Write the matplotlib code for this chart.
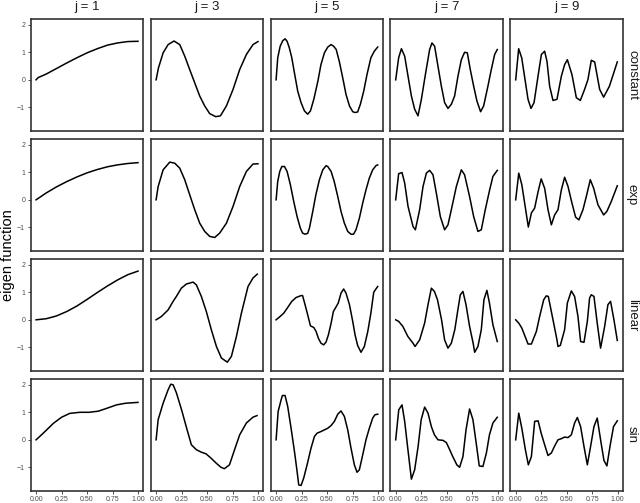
import matplotlib
matplotlib.use("Agg")
import matplotlib.pyplot as plt

plt.rcParams['font.family'] = ['Liberation Sans', 'DejaVu Sans']

# ---------------- data ----------------
rows = ["constant", "exp", "linear", "sin"]
cols = [1, 3, 5, 7, 9]
x_ticks = [0.0, 0.25, 0.5, 0.75, 1.0]
x_tick_labels = ["0.00", "0.25", "0.50", "0.75", "1.00"]
y_ticks = [-1, 0, 1, 2]
y_tick_labels = ["\u22121", "0", "1", "2"]

constant_j1_x = [0, 0.02, 0.1, 0.2, 0.3, 0.4, 0.5, 0.6, 0.7, 0.8, 0.9, 1.0]
constant_j1_y = [0, 0.08, 0.21, 0.41, 0.61, 0.80, 0.98, 1.13, 1.26, 1.34, 1.39, 1.40]
constant_j3_x = [0, 0.023, 0.069, 0.118, 0.176, 0.232, 0.281, 0.33, 0.379, 0.428, 0.477, 0.526, 0.585,
                 0.631, 0.69, 0.755, 0.82, 0.886, 0.951, 1.0]
constant_j3_y = [0, 0.43, 0.98, 1.28, 1.41, 1.28, 0.86, 0.37, -0.11, -0.59, -0.95, -1.23, -1.34,
                 -1.31, -0.95, -0.35, 0.37, 0.92, 1.28, 1.39]
constant_j5_x = [0, 0.016, 0.04, 0.065, 0.088, 0.108, 0.13, 0.154, 0.18, 0.212, 0.245, 0.278, 0.31,
                 0.337, 0.37, 0.41, 0.44, 0.474, 0.507, 0.54, 0.565, 0.59, 0.62, 0.654, 0.686,
                 0.72, 0.752, 0.775, 0.8, 0.827, 0.86, 0.892, 0.93, 0.964, 0.997]
constant_j5_y = [0, 0.80, 1.22, 1.42, 1.49, 1.40, 1.16, 0.80, 0.25, -0.41, -0.83, -1.13, -1.25,
                 -1.13, -0.71, -0.05, 0.55, 0.98, 1.19, 1.28, 1.22, 1.10, 0.67, 0.07, -0.53,
                 -0.95, -1.16, -1.19, -1.17, -0.89, -0.41, 0.19, 0.80, 1.04, 1.19]
constant_j7_x = [0, 0.029, 0.056, 0.088, 0.121, 0.154, 0.186, 0.219, 0.252, 0.294, 0.333, 0.356, 0.382,
                 0.415, 0.448, 0.480, 0.513, 0.546, 0.578, 0.611, 0.644, 0.676, 0.703, 0.732, 0.765,
                 0.797, 0.833, 0.863, 0.905, 0.938, 0.971, 0.997]
constant_j7_y = [0, 0.80, 1.13, 0.86, 0.13, -0.59, -1.07, -1.31, -0.71, 0.25, 1.10, 1.34, 1.22,
                 0.49, -0.23, -0.83, -1.04, -0.89, -0.59, 0.13, 0.73, 1.0, 0.98, 0.37, -0.23,
                 -0.77, -1.16, -0.95, -0.23, 0.37, 0.92, 1.10]
constant_j9_x = [0, 0.029, 0.059, 0.121, 0.150, 0.180, 0.219, 0.252, 0.284, 0.307, 0.333, 0.366, 0.405,
                 0.448, 0.480, 0.507, 0.552, 0.595, 0.634, 0.676, 0.709, 0.742, 0.775, 0.824, 0.863,
                 0.920, 0.997]
constant_j9_y = [0, 1.13, 0.80, -0.71, -1.04, -0.83, 0.13, 0.92, 1.04, 0.67, -0.23, -0.75, -0.71,
                 0.13, 0.55, 0.73, 0.19, -0.65, -0.75, -0.35, 0.01, 0.71, 0.65, -0.35, -0.63,
                 -0.23, 0.65]

exp_j1_x = [0, 0.1, 0.2, 0.3, 0.4, 0.5, 0.6, 0.7, 0.8, 0.9, 1.0]
exp_j1_y = [0, 0.25, 0.47, 0.66, 0.83, 0.98, 1.10, 1.20, 1.27, 1.32, 1.35]
exp_j3_x = [0, 0.02, 0.069, 0.134, 0.183, 0.232, 0.281, 0.33, 0.379, 0.428, 0.477, 0.526, 0.575,
            0.624, 0.69, 0.755, 0.82, 0.886, 0.951, 1.0]
exp_j3_y = [0, 0.48, 1.09, 1.37, 1.33, 1.15, 0.73, 0.18, -0.36, -0.85, -1.15, -1.33, -1.37,
            -1.21, -0.85, -0.24, 0.48, 1.03, 1.30, 1.31]
exp_j5_x = [0, 0.016, 0.036, 0.056, 0.082, 0.108, 0.14, 0.173, 0.206, 0.238, 0.26, 0.284, 0.31,
            0.327, 0.36, 0.39, 0.425, 0.458, 0.49, 0.507, 0.54, 0.57, 0.605, 0.637, 0.67, 0.703,
            0.735, 0.76, 0.784, 0.817, 0.85, 0.882, 0.915, 0.948, 0.98, 0.997]
exp_j5_y = [0, 0.67, 1.03, 1.21, 1.21, 1.03, 0.55, -0.06, -0.61, -1.03, -1.21, -1.25, -1.22,
            -1.03, -0.42, 0.18, 0.73, 1.09, 1.24, 1.21, 1.03, 0.67, 0.12, -0.42, -0.85, -1.15,
            -1.25, -1.25, -1.09, -0.67, -0.12, 0.36, 0.79, 1.09, 1.24, 1.27]
exp_j7_x = [0, 0.029, 0.062, 0.088, 0.121, 0.17, 0.193, 0.235, 0.268, 0.301, 0.333, 0.366, 0.399,
            0.438, 0.48, 0.513, 0.546, 0.595, 0.644, 0.676, 0.725, 0.765, 0.807, 0.84, 0.879,
            0.922, 0.954, 0.997]
exp_j7_y = [0, 0.95, 0.99, 0.61, -0.24, -0.97, -1.09, -0.36, 0.48, 0.97, 1.07, 0.91, 0.24,
            -0.61, -1.09, -0.91, -0.36, 0.48, 1.09, 0.91, 0.12, -0.61, -1.15, -1.09, -0.36,
            0.36, 0.85, 1.07]
exp_j9_x = [0, 0.03, 0.06, 0.124, 0.154, 0.186, 0.22, 0.25, 0.284, 0.317, 0.35, 0.382, 0.415, 0.448,
            0.48, 0.513, 0.552, 0.588, 0.62, 0.66, 0.693, 0.732, 0.765, 0.807, 0.863, 0.895,
            0.938, 0.997]
exp_j9_y = [0, 0.97, 0.55, -0.99, -0.48, -0.30, 0.30, 0.76, 0.42, -0.36, -0.91, -0.55, -0.36, 0.36,
            0.82, 0.49, -0.12, -0.63, -0.73, -0.36, 0.12, 0.73, 0.42, -0.18, -0.55, -0.42,
            -0.06, 0.51]

linear_j1_x = [0, 0.1, 0.2, 0.3, 0.4, 0.5, 0.6, 0.7, 0.8, 0.9, 1.0]
linear_j1_y = [0, 0.04, 0.14, 0.30, 0.50, 0.74, 0.99, 1.23, 1.45, 1.64, 1.77]
linear_j3_x = [0, 0.052, 0.118, 0.167, 0.199, 0.248, 0.297, 0.363, 0.395, 0.444, 0.493, 0.542, 0.592,
               0.641, 0.699, 0.739, 0.788, 0.837, 0.902, 0.951, 0.993]
linear_j3_y = [0, 0.12, 0.36, 0.67, 0.85, 1.15, 1.30, 1.37, 1.27, 0.85, 0.30, -0.36, -0.97,
               -1.39, -1.54, -1.33, -0.61, 0.24, 1.21, 1.52, 1.66]
linear_j5_x = [0, 0.033, 0.075, 0.114, 0.154, 0.196, 0.245, 0.26, 0.284, 0.31, 0.337, 0.37, 0.392,
               0.415, 0.44, 0.467, 0.49, 0.513, 0.54, 0.562, 0.59, 0.61, 0.637, 0.663, 0.686,
               0.72, 0.752, 0.775, 0.8, 0.833, 0.866, 0.9, 0.93, 0.958, 0.974, 0.997]
linear_j5_y = [0, 0.10, 0.24, 0.45, 0.67, 0.81, 0.88, 0.88, 0.55, 0.18, -0.22, -0.28, -0.42,
               -0.67, -0.85, -0.91, -0.81, -0.55, -0.12, 0.30, 0.48, 0.61, 0.97, 1.12, 0.97,
               0.55, -0.06, -0.55, -0.93, -1.18, -0.97, -0.42, 0.24, 1.0, 1.09, 1.21]
linear_j7_x = [0, 0.03, 0.07, 0.12, 0.17, 0.19, 0.235, 0.284, 0.317, 0.35, 0.38, 0.41, 0.45, 0.48,
               0.513, 0.546, 0.58, 0.61, 0.634, 0.66, 0.69, 0.725, 0.76, 0.775, 0.807, 0.84, 0.866,
               0.895, 0.92, 0.954, 0.997]
linear_j7_y = [0, -0.06, -0.24, -0.61, -0.85, -0.97, -0.73, -0.12, 0.55, 1.15, 1.03, 0.73, 0.0, -0.73,
               -1.03, -0.85, -0.36, 0.36, 0.91, 1.03, 0.55, -0.24, -0.85, -1.18, -0.97, -0.36, 0.73,
               1.07, 0.61, -0.18, -0.79]
linear_j9_x = [0, 0.03, 0.06, 0.121, 0.154, 0.203, 0.235, 0.275, 0.30, 0.32, 0.366, 0.405, 0.415,
               0.438, 0.48, 0.507, 0.546, 0.578, 0.611, 0.637, 0.67, 0.703, 0.725, 0.742, 0.768,
               0.8, 0.833, 0.873, 0.905, 0.931, 0.964, 0.997]
linear_j9_y = [0, -0.12, -0.30, -0.88, -0.88, -0.42, 0.12, 0.73, 0.87, 0.85, 0.0, -0.73, -0.97,
               -0.93, -0.36, 0.61, 1.05, 0.85, 0.12, -0.79, -0.82, -0.06, 0.79, 0.91, 0.85,
               -0.12, -1.03, -0.24, 0.55, 0.67, 0.0, -0.75]

sin_j1_x = [0, 0.07, 0.17, 0.25, 0.33, 0.43, 0.52, 0.61, 0.69, 0.79, 0.88, 1.0]
sin_j1_y = [0, 0.24, 0.60, 0.82, 0.96, 1.0, 1.0, 1.04, 1.14, 1.27, 1.33, 1.36]
sin_j3_x = [0, 0.02, 0.069, 0.118, 0.144, 0.167, 0.2, 0.25, 0.3, 0.346, 0.395, 0.444, 0.49, 0.54,
            0.59, 0.637, 0.67, 0.72, 0.77, 0.82, 0.886, 0.95, 0.99]
sin_j3_y = [0, 0.73, 1.33, 1.82, 2.02, 2.0, 1.7, 1.09, 0.42, -0.18, -0.36, -0.45, -0.51, -0.67,
            -0.85, -1.0, -1.05, -0.91, -0.36, 0.18, 0.61, 0.82, 0.88]
sin_j5_x = [0, 0.02, 0.049, 0.062, 0.088, 0.114, 0.147, 0.18, 0.206, 0.222, 0.245, 0.271, 0.304,
            0.343, 0.376, 0.402, 0.44, 0.474, 0.507, 0.54, 0.572, 0.605, 0.637, 0.67, 0.703,
            0.735, 0.768, 0.794, 0.817, 0.85, 0.882, 0.915, 0.948, 0.97, 0.997]
sin_j5_y = [0, 1.03, 1.45, 1.61, 1.61, 1.21, 0.42, -0.42, -1.15, -1.64, -1.66, -1.39, -0.91,
            -0.30, 0.12, 0.24, 0.30, 0.36, 0.42, 0.52, 0.67, 0.93, 1.05, 0.85, 0.36,
            -0.30, -0.91, -1.18, -1.09, -0.55, 0.0, 0.42, 0.79, 0.91, 0.93]
sin_j7_x = [0, 0.03, 0.062, 0.088, 0.12, 0.154, 0.186, 0.22, 0.25, 0.284, 0.317, 0.35, 0.38, 0.415,
            0.464, 0.497, 0.53, 0.56, 0.6, 0.627, 0.66, 0.69, 0.725, 0.758, 0.79, 0.82, 0.856,
            0.89, 0.92, 0.954, 0.997]
sin_j7_y = [0, 1.09, 1.27, 0.67, -0.36, -1.43, -1.09, -0.24, 0.73, 1.19, 0.97, 0.48, 0.18, 0.0,
            -0.02, -0.1, -0.36, -0.61, -0.91, -1.0, -0.61, 0.36, 1.12, 0.73, -0.12, -0.95, -0.97,
            -0.48, 0.18, 0.61, 0.82]
sin_j9_x = [0, 0.03, 0.06, 0.095, 0.124, 0.154, 0.186, 0.22, 0.25, 0.284, 0.317, 0.35, 0.38, 0.415,
            0.448, 0.48, 0.513, 0.546, 0.578, 0.605, 0.637, 0.67, 0.703, 0.735, 0.768, 0.8, 0.833,
            0.866, 0.895, 0.928, 0.96, 0.997]
sin_j9_y = [0, 0.97, 0.42, -0.36, -0.91, -0.61, 0.67, 0.69, 0.24, -0.18, -0.57, -0.48, -0.24, 0.0,
            0.04, 0.1, 0.08, 0.18, 0.61, 0.81, 0.48, -0.24, -0.91, -0.24, 0.48, 0.79, 0.0,
            -0.75, -0.95, -0.18, 0.48, 0.69]

series = {
    ("constant", 1): (constant_j1_x, constant_j1_y), ("constant", 3): (constant_j3_x, constant_j3_y),
    ("constant", 5): (constant_j5_x, constant_j5_y), ("constant", 7): (constant_j7_x, constant_j7_y),
    ("constant", 9): (constant_j9_x, constant_j9_y),
    ("exp", 1): (exp_j1_x, exp_j1_y), ("exp", 3): (exp_j3_x, exp_j3_y), ("exp", 5): (exp_j5_x, exp_j5_y),
    ("exp", 7): (exp_j7_x, exp_j7_y), ("exp", 9): (exp_j9_x, exp_j9_y),
    ("linear", 1): (linear_j1_x, linear_j1_y), ("linear", 3): (linear_j3_x, linear_j3_y),
    ("linear", 5): (linear_j5_x, linear_j5_y), ("linear", 7): (linear_j7_x, linear_j7_y),
    ("linear", 9): (linear_j9_x, linear_j9_y),
    ("sin", 1): (sin_j1_x, sin_j1_y), ("sin", 3): (sin_j3_x, sin_j3_y), ("sin", 5): (sin_j5_x, sin_j5_y),
    ("sin", 7): (sin_j7_x, sin_j7_y), ("sin", 9): (sin_j9_x, sin_j9_y),
}

# ---------------- layout ----------------
W, H = 640, 503
fig = plt.figure(figsize=(W / 100, H / 100), dpi=100)
col_left = [30.7, 150.7, 270.7, 390.3, 510.3]
row_top = [19, 139, 259, 379]
pw, ph = 112.7, 111.7

for r, cond in enumerate(rows):
    for c, j in enumerate(cols):
        ax = fig.add_axes([col_left[c] / W, 1 - (row_top[r] + ph) / H, pw / W, ph / H])
        xs, ys = series[(cond, j)]
        ax.plot(xs, ys, color="black", lw=1.1, solid_joinstyle="round")
        ax.set_xlim(-0.053, 1.053)
        ax.set_ylim(-1.85, 2.21)
        for s in ax.spines.values():
            s.set_color("#333333")
            s.set_linewidth(1.2)
        ax.tick_params(direction="out", length=2.5, width=0.6, color="#333333",
                       labelsize=5, labelcolor="#4d4d4d", pad=1.5)
        if c == 0:
            ax.set_yticks(y_ticks)
            ax.set_yticklabels(y_tick_labels)
        else:
            ax.set_yticks([])
        if r == len(rows) - 1:
            ax.set_xticks(x_ticks)
            ax.set_xticklabels(x_tick_labels)
        else:
            ax.set_xticks([])
        if r == 0:
            fig.text((col_left[c] + pw / 2) / W, 1 - 7 / H, f"j = {j}", ha="center", va="center",
                     fontsize=9.5, color="#1a1a1a")
        if c == len(cols) - 1:
            fig.text(632 / W, 1 - (row_top[r] + ph / 2) / H, cond, ha="center", va="center",
                     rotation=270, fontsize=9.5, color="#1a1a1a")

fig.text(8 / W, 1 - 255 / H, "eigen function", rotation=90, ha="center", va="center",
         fontsize=10.5, color="black")

fig.savefig("out.png", dpi=100)
